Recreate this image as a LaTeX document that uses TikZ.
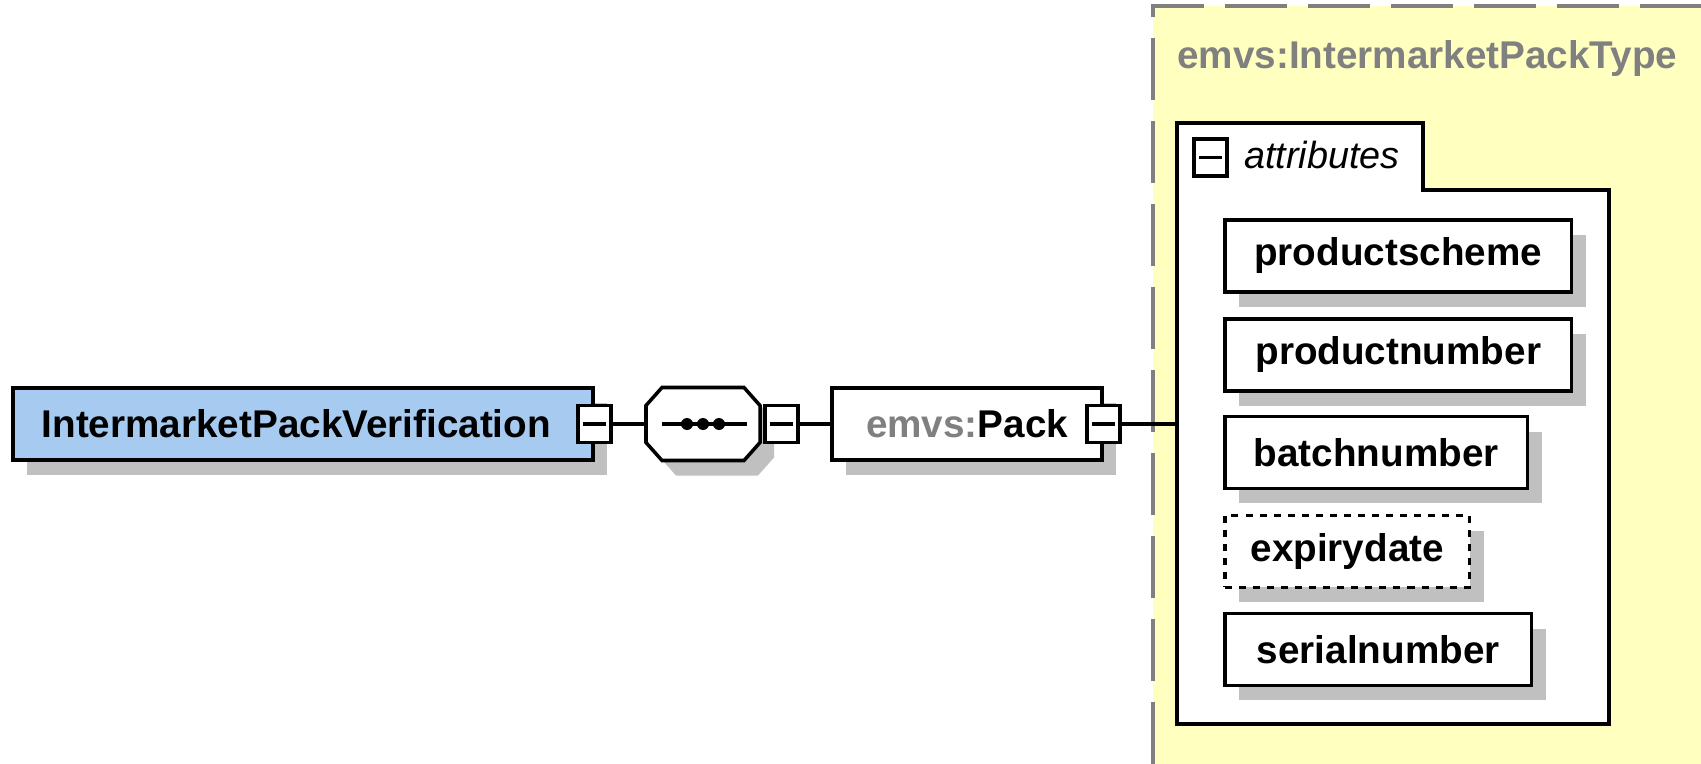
\documentclass[tikz,border=0pt]{standalone}
\usepackage{fontspec}
\setmainfont{Liberation Sans}
\usetikzlibrary{shadows}

\definecolor{elemblue}{HTML}{A6CAF0}
\definecolor{shadegray}{HTML}{C0C0C0}
\definecolor{typeyellow}{HTML}{FFFFC0}
\definecolor{typegray}{HTML}{808080}

\newcommand\octagonpath{++(-41,-36.5) -- ++(82,0) -- ++(16,18) -- ++(0,37) -- ++(-16,18) -- ++(-82,0) -- ++(-16,-18) -- ++(0,-37) -- cycle}

\tikzset{
	elem/.style={draw,line width=2pt,fill=white,minimum height=1.44cm,inner sep=0pt,
		font=\fontsize{22}{26}\selectfont\bfseries,
		drop shadow={shadow xshift=0.28cm,shadow yshift=-0.3cm,fill=shadegray,opacity=1}},
	minus/.style={draw,line width=2pt,fill=white,minimum width=0.66cm,minimum height=0.74cm,inner sep=0pt,
		path picture={\draw[line width=2pt] ([xshift=0.1cm]path picture bounding box.west) -- ([xshift=-0.1cm]path picture bounding box.east);}},
	conn/.style={line width=2pt}
}

\begin{document}
\begin{tikzpicture}[x=0.02cm,y=-0.02cm]
	\useasboundingbox (0,0) rectangle (1701,764);
	
	%type panel
	\fill[typeyellow] (1153,6) rectangle (1701,764);
	\draw[typegray,line width=1.8pt,dash pattern=on 1.24cm off 0.42cm] (1153,764) -- (1153,6) -- (1701,6);
	\node[anchor=base west,text=typegray,inner sep=0pt,font=\fontsize{22}{26}\selectfont\bfseries] (typename) at (1177,68) {emvs:IntermarketPackType};
	
	%attributes frame
	\draw[line width=2pt,fill=white] (1177,123) -- (1423,123) -- (1423,190) -- (1609,190) -- (1609,724) -- (1177,724) -- cycle;
	\node[minus] (attrminus) at (1210.5,157.5) {};
	\node[anchor=base west,inner sep=0pt,font=\fontsize{21.5}{26}\selectfont\itshape] (attrlabel) at (1244,168) {attributes};
	\coordinate (attrin) at (1177,424);
	
	%elements
	\node[elem,fill=elemblue,anchor=west,inner xsep=0.58cm] (root) at (11,424) {IntermarketPackVerification\hspace*{0.26cm}};
	\node[minus] (rootminus) at (root.east) {};
	\node[minimum width=2.28cm,minimum height=1.46cm,inner sep=0pt] (seq) at (703,424) {};
	\fill[shadegray] ([shift={(14,15)}]seq.center) \octagonpath;
	\draw[line width=2pt,fill=white] (seq.center) \octagonpath;
	\node[minus,anchor=west] (seqminus) at ([xshift=0.06cm]seq.east) {};
	\node[elem,minimum width=5.4cm] (pack) at (967,424) {\textcolor{typegray}{emvs:}Pack};
	\node[minus] (packminus) at (pack.east) {};
	
	%sequence
	\draw[conn] ([shift={(-41,0)}]seq.center) -- ([shift={(44,0)}]seq.center);
	\foreach \x in {-16,0,16}
	\fill ([shift={(\x,0)}]seq.center) circle (0.12cm);
	
	%attributes
	\node[elem,anchor=west,minimum width=6.94cm] (productscheme) at (1223,256) {productscheme};
	\node[elem,anchor=west,minimum width=6.94cm] (productnumber) at (1223,355) {productnumber};
	\node[elem,anchor=west,minimum width=6.06cm] (batchnumber) at (1223,452.5) {batchnumber};
	\node[elem,anchor=west,minimum width=4.9cm,dash pattern=on 4pt off 4pt] (expirydate) at (1223,551.5) {expirydate};
	\node[elem,anchor=west,minimum width=6.14cm] (serialnumber) at (1223,649.5) {serialnumber};
	
	%connectors
	\draw[conn] (rootminus) -- (seq);
	\draw[conn] (seqminus) -- (pack);
	\draw[conn] (packminus) -- (attrin);
\end{tikzpicture}
\end{document}
